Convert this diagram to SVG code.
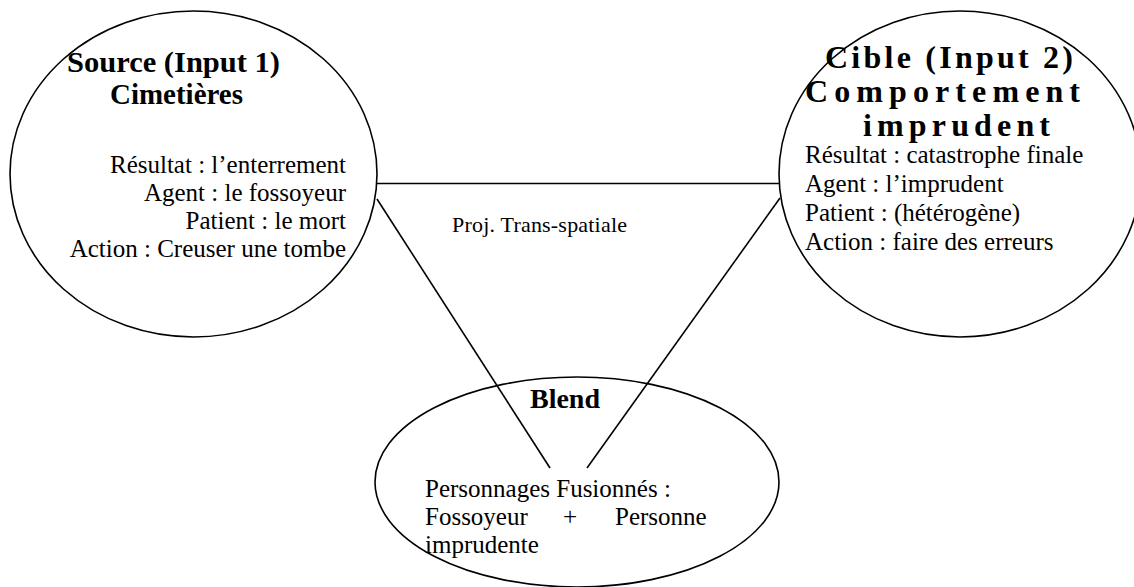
<svg xmlns="http://www.w3.org/2000/svg" width="1134" height="587" viewBox="0 0 1134 587">
  <style>
    .bubble { fill: none; stroke: #000; stroke-width: 1.6; }
    .link { stroke: #000; stroke-width: 1.6; fill: none; }
    .title { font-family: "Liberation Serif", "Times New Roman", serif; font-weight: bold; font-size: 30px; fill: #000; }
    .big { font-size: 32px; }
    .body { font-family: "Liberation Serif", "Times New Roman", serif; font-size: 25px; fill: #000; }
    .label { font-family: "Liberation Serif", "Times New Roman", serif; font-size: 22px; fill: #000; }
  </style>
  <rect x="0" y="0" width="1134" height="587" fill="#fff"/>

  <!-- projection lines between the input spaces and the blend -->
  <g id="connectors">
    <line class="link" x1="377" y1="183.5" x2="779" y2="183.5"/>
    <line class="link" x1="377" y1="199" x2="550" y2="468"/>
    <line class="link" x1="780" y1="198" x2="587" y2="468"/>
    <text class="label" x="452" y="232" textLength="175" lengthAdjust="spacing">Proj. Trans-spatiale</text>
  </g>

  <!-- input space 1 -->
  <g id="source">
    <ellipse class="bubble" cx="193.5" cy="174" rx="183.5" ry="163"/>
    <text class="title" x="67" y="72" textLength="213" lengthAdjust="spacingAndGlyphs">Source (Input 1)</text>
    <text class="title" x="110" y="104" textLength="133" lengthAdjust="spacingAndGlyphs">Cimetières</text>
    <g class="body" text-anchor="end">
      <text x="346" y="173">Résultat : l’enterrement</text>
      <text x="346" y="201">Agent : le fossoyeur</text>
      <text x="346" y="229">Patient : le mort</text>
      <text x="346" y="257">Action : Creuser une tombe</text>
    </g>
  </g>

  <!-- input space 2 (title set with expanded letter spacing) -->
  <g id="cible">
    <ellipse class="bubble" cx="960" cy="174" rx="181" ry="163"/>
    <text class="title big" x="825" y="68" textLength="248" lengthAdjust="spacing">Cible (Input 2)</text>
    <text class="title big" x="805" y="102" textLength="275" lengthAdjust="spacing">Comportement</text>
    <text class="title big" x="863" y="136" textLength="187" lengthAdjust="spacing">imprudent</text>
    <g class="body">
      <text x="805" y="163">Résultat : catastrophe finale</text>
      <text x="805" y="192">Agent : l’imprudent</text>
      <text x="805" y="221">Patient : (hétérogène)</text>
      <text x="805" y="250">Action : faire des erreurs</text>
    </g>
  </g>

  <!-- blended space -->
  <g id="blend">
    <ellipse class="bubble" cx="577" cy="482" rx="202" ry="105"/>
    <text class="title" x="565" y="408" text-anchor="middle" style="font-size:28px">Blend</text>
    <g class="body">
      <text x="425" y="497">Personnages Fusionnés :</text>
      <text x="425" y="525">Fossoyeur</text>
      <text x="563" y="525">+</text>
      <text x="615" y="525">Personne</text>
      <text x="425" y="553">imprudente</text>
    </g>
  </g>
</svg>
